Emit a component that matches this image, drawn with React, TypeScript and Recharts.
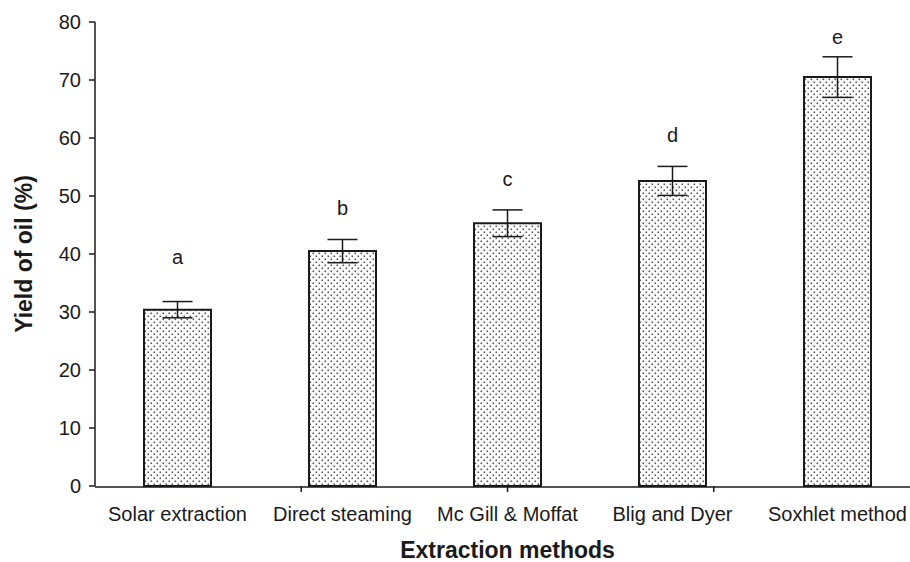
import { ComposedChart, Bar, Line, XAxis, YAxis, ErrorBar, LabelList, Label } from "recharts"

const methods = ["Solar extraction", "Direct steaming", "Mc Gill & Moffat", "Blig and Dyer", "Soxhlet method"]
const yieldPct = [30.4, 40.5, 45.3, 52.6, 70.5]
const yieldErr = [1.4, 2, 2.3, 2.5, 3.5]
const letters = ["a", "b", "c", "d", "e"]
const letterY = [39.5, 48, 53, 60.5, 77.5]
const yTicks = [0, 10, 20, 30, 40, 50, 60, 70, 80]

const data = methods.map((m, i) => ({
  name: m,
  value: yieldPct[i],
  err: yieldErr[i],
  letter: letters[i],
  letterY: letterY[i],
}))

const font = "'Liberation Sans', Arial, sans-serif"
const ink = "#1a1a1a"

export default function App() {
  return (
    <div style={{ position: "absolute", left: 0, top: 0, width: 910, height: 562, overflow: "hidden", background: "#fff" }}>
      <svg width="0" height="0" style={{ position: "absolute" }}>
        <defs>
          <pattern id="dots" width="6" height="6" patternUnits="userSpaceOnUse">
            <rect width="6" height="6" fill="#fff" />
            <rect x="0.5" y="0.5" width="1.6" height="1.6" fill="#555" />
            <rect x="3.5" y="3.5" width="1.6" height="1.6" fill="#555" />
          </pattern>
        </defs>
      </svg>
      <ComposedChart
        width={940}
        height={562}
        data={data}
        margin={{ top: 22, right: 20, left: 0, bottom: 0 }}
        style={{ fontFamily: font }}
      >
        <XAxis
          xAxisId="bound"
          type="number"
          domain={[0, 5]}
          ticks={[1, 2, 3, 4]}
          tickFormatter={() => ""}
          axisLine={false}
          tickSize={6}
          height={1}
          tickLine={{ stroke: ink, strokeWidth: 1.5 }}
        />
        <XAxis
          xAxisId="cat"
          dataKey="name"
          height={75}
          tickLine={false}
          tickSize={0}
          tickMargin={20}
          axisLine={{ stroke: ink, strokeWidth: 1.5 }}
          tick={{ fill: ink, fontSize: 20, fontFamily: font }}
          interval={0}
        >
          <Label
            value="Extraction methods"
            position="insideBottom"
            offset={4}
            style={{ fill: ink, fontSize: 23, fontWeight: "bold", fontFamily: font }}
          />
        </XAxis>
        <YAxis
          width={95}
          domain={[0, 80]}
          ticks={yTicks}
          tickSize={6}
          tickMargin={8}
          axisLine={{ stroke: ink, strokeWidth: 1.5 }}
          tickLine={{ stroke: ink, strokeWidth: 1.5 }}
          tick={{ fill: ink, fontSize: 20, fontFamily: font }}
        >
          <Label
            value="Yield of oil (%)"
            angle={-90}
            position="insideLeft"
            offset={24}
            style={{ fill: ink, fontSize: 23, fontWeight: "bold", fontFamily: font, textAnchor: "middle" }}
          />
        </YAxis>
        <Bar
          xAxisId="cat"
          dataKey="value"
          barSize={67}
          fill="url(#dots)"
          stroke={ink}
          strokeWidth={2}
          isAnimationActive={false}
        >
          <ErrorBar dataKey="err" width={15} stroke={ink} strokeWidth={1.5} />
        </Bar>
        <Line
          xAxisId="cat"
          dataKey="letterY"
          stroke="none"
          dot={false}
          activeDot={false}
          isAnimationActive={false}
        >
          <LabelList dataKey="letter" position="center" style={{ fill: ink, fontSize: 20, fontFamily: font }} />
        </Line>
      </ComposedChart>
    </div>
  )
}
